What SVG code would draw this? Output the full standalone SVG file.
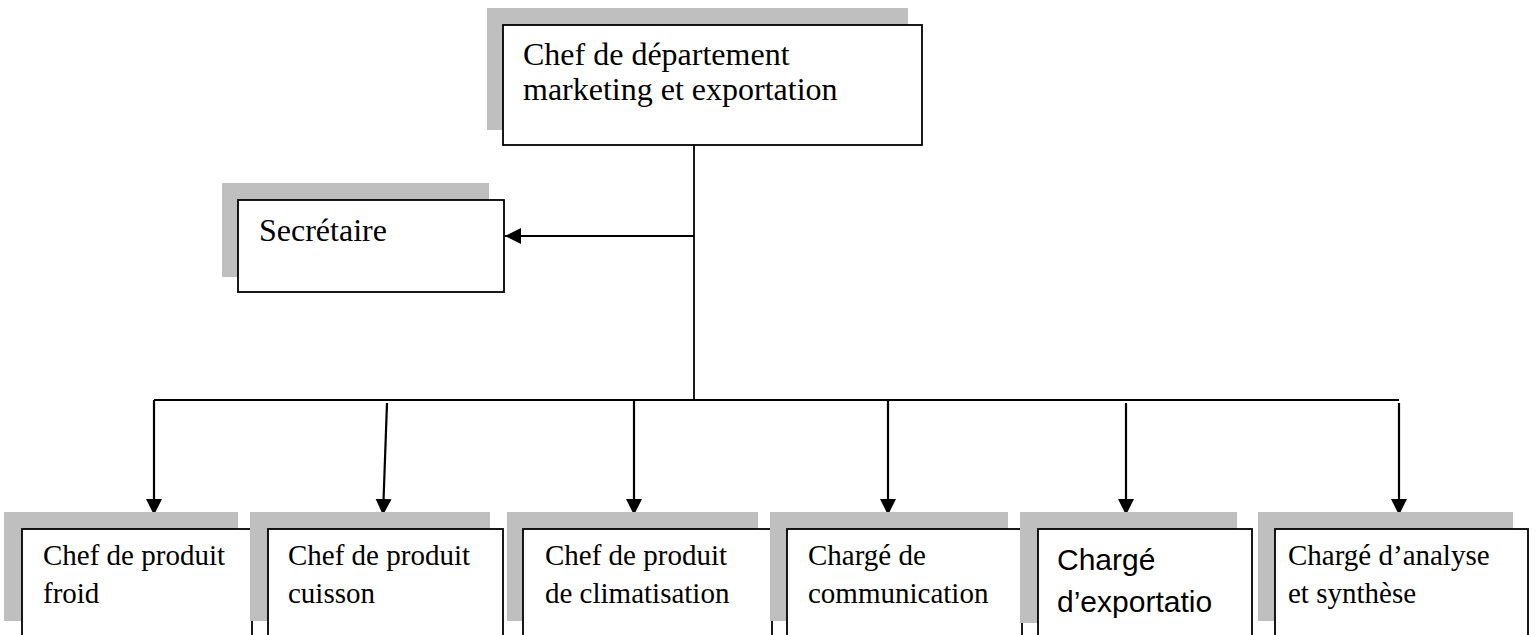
<svg xmlns="http://www.w3.org/2000/svg" width="1538" height="635" viewBox="0 0 1538 635">
<style>
.sh{fill:#bfbfbf;stroke:none}
.bx{fill:#fff;stroke:#000;stroke-width:1.8}
.t{font-family:"Liberation Serif","Times New Roman",serif;fill:#000}
.big{font-size:32px}
.sm{font-size:29px}
.cal{font-family:"Liberation Sans",Arial,sans-serif;font-size:30px;fill:#000}
.ln{fill:none;stroke:#000;stroke-width:1.8}
.ar{fill:none;stroke:#000;stroke-width:2.2;marker-end:url(#ah)}
</style>
<defs>
<marker id="ah" markerUnits="userSpaceOnUse" markerWidth="17" markerHeight="17" viewBox="0 0 17 17" refX="16" refY="8.5" orient="auto">
<path d="M0,0.5 L16,8.5 L0,16.5 Z" fill="#000"/>
</marker>
</defs>
<rect width="1538" height="635" fill="#fff"/>

<g id="connectors">
<path class="ln" d="M694,145 V400"/>
<path class="ln" d="M154,400 H1399"/>
<path class="ar" d="M694,236 H505"/>
<path class="ar" d="M154,400 V515"/>
<path class="ar" d="M387,403 L383,515"/>
<path class="ar" d="M634,400 V515"/>
<path class="ar" d="M888,400 V515"/>
<path class="ar" d="M1126,403 V515"/>
<path class="ar" d="M1399,403 V515"/>
</g>

<g id="chef-departement">
<rect class="sh" x="487" y="8" width="421" height="122"/>
<rect class="bx" x="503" y="25" width="419" height="120"/>
<text class="t big" x="523" y="65">Chef de département</text>
<text class="t big" x="523" y="100">marketing et exportation</text>
</g>

<g id="secretaire">
<rect class="sh" x="222" y="183" width="267" height="94"/>
<rect class="bx" x="238" y="200" width="266" height="92"/>
<text class="t big" x="259" y="241">Secrétaire</text>
</g>

<g id="produit-froid">
<rect class="sh" x="4" y="512" width="234" height="109"/>
<rect class="bx" x="22" y="529" width="230" height="112"/>
<text class="t sm" x="43" y="565">Chef de produit</text>
<text class="t sm" x="43" y="603">froid</text>
</g>

<g id="produit-cuisson">
<rect class="sh" x="250" y="512" width="240" height="109"/>
<rect class="bx" x="268" y="529" width="235" height="112"/>
<text class="t sm" x="288" y="565">Chef de produit</text>
<text class="t sm" x="288" y="603">cuisson</text>
</g>

<g id="produit-climatisation">
<rect class="sh" x="507" y="512" width="251" height="109"/>
<rect class="bx" x="523" y="529" width="249" height="112"/>
<text class="t sm" x="545" y="565">Chef de produit</text>
<text class="t sm" x="545" y="603">de climatisation</text>
</g>

<g id="communication">
<rect class="sh" x="770" y="512" width="238" height="109"/>
<rect class="bx" x="787" y="529" width="235" height="112"/>
<text class="t sm" x="808" y="565">Chargé de</text>
<text class="t sm" x="808" y="603">communication</text>
</g>

<g id="exportation">
<rect class="sh" x="1020" y="512" width="217" height="111"/>
<rect class="bx" x="1038" y="529" width="214" height="112"/>
<text class="cal" x="1057" y="570">Chargé</text>
<text class="cal" x="1057" y="612">d’exportatio</text>
</g>

<g id="analyse-synthese">
<rect class="sh" x="1258" y="512" width="255" height="109"/>
<rect class="bx" x="1275" y="529" width="253" height="112"/>
<text class="t sm" x="1288" y="565">Chargé d’analyse</text>
<text class="t sm" x="1288" y="603">et synthèse</text>
</g>
</svg>
